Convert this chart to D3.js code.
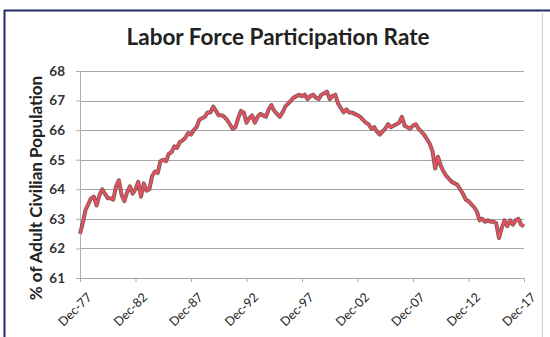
<!DOCTYPE html>
<html>
<head>
<meta charset="utf-8">
<script src="https://cdn.jsdelivr.net/npm/d3@7"></script>
<style>
html,body{margin:0;padding:0;background:#fff;}
svg{display:block;}
</style>
</head>
<body>
<svg id="chart" width="550" height="337"></svg>
<script>
const title = "Labor Force Participation Rate";
const yLabel = "% of Adult Civilian Population";
const startMonth = "1977-12";
const stepMonths = 3;
const yTicks = [61, 62, 63, 64, 65, 66, 67, 68];
const xTickLabels = ["Dec-77","Dec-82","Dec-87","Dec-92","Dec-97","Dec-02","Dec-07","Dec-12","Dec-17"];
const rate = [
 62.5,62.85,63.3,63.5,63.7,63.75,63.45,63.8,64.0,63.85,
 63.7,63.7,63.65,64.1,64.3,63.8,63.6,63.9,64.1,63.85,
 64.0,64.25,63.75,64.2,63.95,64.0,64.45,64.6,64.55,64.95,
 65.0,64.95,65.2,65.25,65.45,65.4,65.6,65.65,65.75,65.9,
 65.85,66.0,66.1,66.35,66.4,66.45,66.6,66.6,66.8,66.65,
 66.5,66.5,66.45,66.35,66.2,66.05,66.1,66.4,66.65,66.6,
 66.25,66.4,66.5,66.25,66.45,66.55,66.5,66.45,66.7,66.85,
 66.65,66.55,66.45,66.6,66.8,66.9,67.0,67.1,67.15,67.2,
 67.15,67.2,67.05,67.15,67.2,67.1,67.05,67.2,67.25,67.3,
 67.05,67.15,67.2,66.9,66.75,66.6,66.7,66.6,66.6,66.55,
 66.5,66.45,66.35,66.25,66.2,66.05,66.1,65.95,65.85,65.95,
 66.05,66.2,66.1,66.15,66.2,66.25,66.45,66.15,66.1,66.05,
 66.15,66.2,66.05,65.95,65.85,65.7,65.55,65.3,64.7,65.1,
 64.8,64.6,64.45,64.35,64.25,64.2,64.15,64.0,63.85,63.65,
 63.6,63.5,63.4,63.25,62.95,63.0,62.9,62.95,62.9,62.9,
 62.85,62.35,62.7,62.95,62.75,62.95,62.8,62.95,63.0,62.8,
 62.75
];

const parse = d3.timeParse("%Y-%m");
const t0 = parse(startMonth);
const data = rate.map((v, i) => ({date: d3.timeMonth.offset(t0, i * stepMonths), value: v}));
const tickDates = xTickLabels.map(s => d3.timeParse("%b-%y")(s));

const svg = d3.select("#chart");
const W = 550, H = 337;
const m = {left: 80, right: 26, top: 71, bottom: 59};

// frame
svg.append("line").attr("x1",4).attr("x2",550).attr("y1",10.5).attr("y2",10.5).attr("stroke","#1f2a66").attr("stroke-width",2);
svg.append("line").attr("x1",4.5).attr("x2",4.5).attr("y1",10).attr("y2",337).attr("stroke","#1f2a66").attr("stroke-width",2);
svg.append("line").attr("x1",542.5).attr("x2",542.5).attr("y1",11).attr("y2",337).attr("stroke","#d0d0d0").attr("stroke-width",1);

const x = d3.scaleTime().domain([tickDates[0], tickDates[tickDates.length-1]]).range([m.left, W - m.right]);
const y = d3.scaleLinear().domain([61, 68]).range([H - m.bottom, m.top]);

// gridlines
svg.append("g").selectAll("line").data(yTicks.slice(1)).join("line")
  .attr("x1", m.left).attr("x2", W - m.right)
  .attr("y1", d => Math.round(y(d)) + 0.5).attr("y2", d => Math.round(y(d)) + 0.5)
  .attr("stroke", "#a6a6a6").attr("stroke-width", 1);

// y axis
const yAxis = svg.append("g").attr("transform", `translate(${m.left},0)`)
  .call(d3.axisLeft(y).tickValues(yTicks).tickSize(4).tickPadding(11).tickFormat(d3.format("d")));
yAxis.select(".domain").attr("stroke", "#b0b0b0");
yAxis.selectAll(".tick line").attr("stroke", "#b0b0b0");
yAxis.selectAll("text").attr("font-family", "Lato, 'Open Sans', sans-serif").attr("font-weight", "bold")
  .attr("font-size", 13.5).attr("fill", "#333");

// x axis
const xAxis = svg.append("g").attr("transform", `translate(0,${H - m.bottom})`)
  .call(d3.axisBottom(x).tickValues(tickDates).tickSize(4).tickFormat(d3.timeFormat("%b-%y")));
xAxis.select(".domain").attr("stroke", "#a6a6a6");
xAxis.selectAll(".tick line").attr("stroke", "#a6a6a6");
xAxis.selectAll("text")
  .attr("font-family", "Lato, 'Open Sans', sans-serif").attr("font-size", 12.5).attr("fill", "#222")
  .attr("text-anchor", "end").attr("dy", "0.35em").attr("dx", "0")
  .attr("transform", "translate(4,12) rotate(-45)");

// line
const line = d3.line().x(d => x(d.date)).y(d => y(d.value)).curve(d3.curveLinear);
svg.append("path").datum(data).attr("d", line)
  .attr("fill", "none").attr("stroke", "#6e3a3e").attr("stroke-width", 4).attr("stroke-linejoin", "round").attr("opacity", 0.85);
svg.append("path").datum(data).attr("d", line)
  .attr("fill", "none").attr("stroke", "#e5525e").attr("stroke-width", 2.2).attr("stroke-linejoin", "round");

// title
svg.append("text").attr("x", 278).attr("y", 45).attr("text-anchor", "middle")
  .attr("font-family", "Lato, 'Open Sans', sans-serif").attr("font-weight", "bold").attr("font-size", 22.5)
  .attr("fill", "#222").text(title);

// y label
svg.append("text").attr("transform", "translate(42,188) rotate(-90)").attr("text-anchor", "middle")
  .attr("font-family", "Lato, 'Open Sans', sans-serif").attr("font-weight", "bold").attr("font-size", 17)
  .attr("fill", "#222").text(yLabel);
</script>
</body>
</html>
